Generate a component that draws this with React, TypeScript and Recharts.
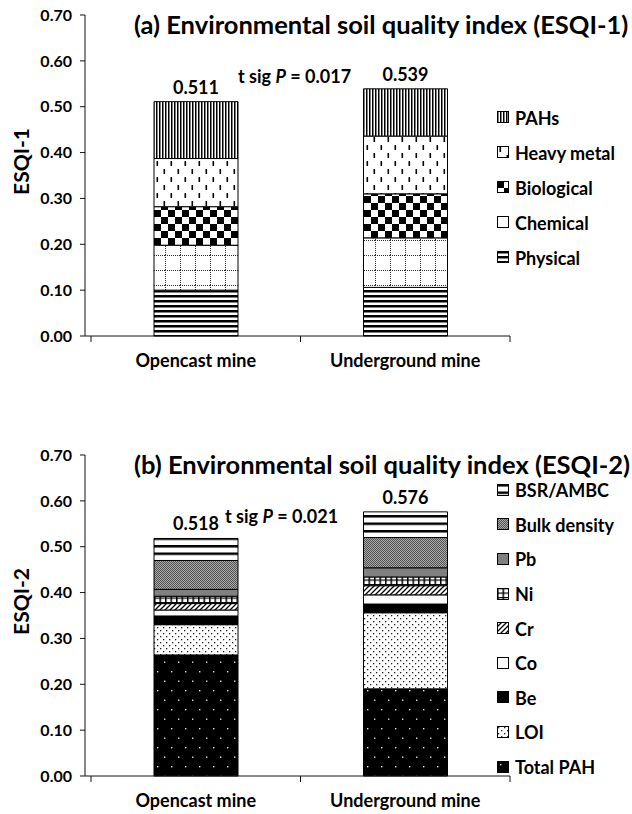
import React from "react";
import { BarChart, Bar, XAxis, YAxis, LabelList, Label } from "recharts";

const FONT = "Lato, 'Open Sans', sans-serif";
const INK = "#111";

const mines = ["Opencast mine", "Underground mine"];
const yTicks = [0, 0.1, 0.2, 0.3, 0.4, 0.5, 0.6, 0.7];

// (a) ESQI-1 components
const physical = [0.1, 0.106];
const chemical = [0.098, 0.108];
const biological = [0.084, 0.096];
const heavyMetal = [0.105, 0.126];
const pahs = [0.124, 0.103];
const esqi1Totals = [0.511, 0.539];

// (b) ESQI-2 components
const totalPah = [0.264, 0.19];
const loi = [0.066, 0.166];
const be = [0.019, 0.019];
const co = [0.013, 0.02];
const cr = [0.014, 0.02];
const ni = [0.016, 0.019];
const pb = [0.015, 0.02];
const bulkDensity = [0.063, 0.066];
const bsrAmbc = [0.048, 0.056];
const esqi2Totals = [0.518, 0.576];

const esqi1Data = mines.map((mine, i) => ({
  mine,
  physical: physical[i],
  chemical: chemical[i],
  biological: biological[i],
  heavyMetal: heavyMetal[i],
  pahs: pahs[i],
  total: esqi1Totals[i],
}));

const esqi2Data = mines.map((mine, i) => ({
  mine,
  totalPah: totalPah[i],
  loi: loi[i],
  be: be[i],
  co: co[i],
  cr: cr[i],
  ni: ni[i],
  pb: pb[i],
  bulkDensity: bulkDensity[i],
  bsrAmbc: bsrAmbc[i],
  total: esqi2Totals[i],
}));

type Series = { key: string; name: string; fill: string };

// stacking order, bottom first
const esqi1Series: Series[] = [
  { key: "physical", name: "Physical", fill: "url(#p-physical)" },
  { key: "chemical", name: "Chemical", fill: "url(#p-chemical)" },
  { key: "biological", name: "Biological", fill: "url(#p-biological)" },
  { key: "heavyMetal", name: "Heavy metal", fill: "url(#p-heavy)" },
  { key: "pahs", name: "PAHs", fill: "url(#p-pahs)" },
];

const esqi2Series: Series[] = [
  { key: "totalPah", name: "Total PAH", fill: "url(#p-totalpah)" },
  { key: "loi", name: "LOI", fill: "url(#p-loi)" },
  { key: "be", name: "Be", fill: "#000" },
  { key: "co", name: "Co", fill: "#fff" },
  { key: "cr", name: "Cr", fill: "url(#p-cr)" },
  { key: "ni", name: "Ni", fill: "url(#p-ni)" },
  { key: "pb", name: "Pb", fill: "#808080" },
  { key: "bulkDensity", name: "Bulk density", fill: "url(#p-bulk)" },
  { key: "bsrAmbc", name: "BSR/AMBC", fill: "url(#p-bsr)" },
];

function Patterns() {
  return (
    <svg width={0} height={0} style={{ position: "absolute" }}>
      <defs>
        <pattern id="p-physical" width={8} height={5} patternUnits="userSpaceOnUse">
          <rect width={8} height={5} fill="#fff" />
          <rect width={8} height={2.5} fill="#000" />
        </pattern>
        <pattern id="p-chemical" width={15} height={15} patternUnits="userSpaceOnUse">
          <rect width={15} height={15} fill="#fff" />
          <line x1={0} y1={0.5} x2={15} y2={0.5} stroke="#333" strokeDasharray="1 1" />
          <line x1={0.5} y1={0} x2={0.5} y2={15} stroke="#333" strokeDasharray="1 1" />
        </pattern>
        <pattern id="p-biological" width={14} height={14} patternUnits="userSpaceOnUse">
          <rect width={14} height={14} fill="#fff" />
          <rect width={7} height={7} fill="#000" />
          <rect x={7} y={7} width={7} height={7} fill="#000" />
        </pattern>
        <pattern id="p-heavy" width={14} height={16} patternUnits="userSpaceOnUse">
          <rect width={14} height={16} fill="#fff" />
          <rect x={2.5} y={1} width={1.6} height={5} fill="#000" />
          <rect x={9.5} y={9} width={1.6} height={5} fill="#000" />
        </pattern>
        <pattern id="p-pahs" width={3} height={4} patternUnits="userSpaceOnUse">
          <rect width={3} height={4} fill="#fff" />
          <rect width={1.5} height={4} fill="#000" />
        </pattern>
        <pattern id="p-totalpah" width={14} height={19} patternUnits="userSpaceOnUse">
          <rect width={14} height={19} fill="#000" />
          <rect x={3} y={3} width={1.4} height={1.4} fill="#ddd" />
          <rect x={10} y={12.5} width={1.4} height={1.4} fill="#ddd" />
        </pattern>
        <pattern id="p-loi" width={6} height={6} patternUnits="userSpaceOnUse">
          <rect width={6} height={6} fill="#fff" />
          <rect x={1} y={1} width={1.3} height={1.3} fill="#222" />
          <rect x={4} y={4} width={1.3} height={1.3} fill="#222" />
        </pattern>
        <pattern id="p-cr" width={5} height={5} patternUnits="userSpaceOnUse">
          <rect width={5} height={5} fill="#fff" />
          <path d="M0,5 L5,0 M-1,1 L1,-1 M4,6 L6,4" stroke="#000" strokeWidth={1.3} />
        </pattern>
        <pattern id="p-ni" width={5.5} height={4.5} patternUnits="userSpaceOnUse">
          <rect width={5.5} height={4.5} fill="#fff" />
          <rect width={1.5} height={4.5} fill="#000" />
          <rect width={5.5} height={1.2} fill="#000" />
        </pattern>
        <pattern id="p-bulk" width={2} height={2} patternUnits="userSpaceOnUse">
          <rect width={2} height={2} fill="#a8a8a8" />
          <rect width={1} height={1} fill="#555" />
          <rect x={1} y={1} width={1} height={1} fill="#555" />
        </pattern>
        <pattern id="p-bsr" width={8} height={7.5} patternUnits="userSpaceOnUse">
          <rect width={8} height={7.5} fill="#fff" />
          <rect width={8} height={2.5} fill="#000" />
        </pattern>
      </defs>
    </svg>
  );
}

// plot area: x 85..510, y 15..336
const PAD_LEFT = 6;
const HALF_BAND = (510 - 85 - PAD_LEFT) / 4;

function MineTick(props: any) {
  const { x, y, payload, index } = props;
  return (
    <g>
      <line x1={x - HALF_BAND} y1={y} x2={x - HALF_BAND} y2={y + 6} stroke={INK} />
      {index === mines.length - 1 && (
        <line x1={x + HALF_BAND} y1={y} x2={x + HALF_BAND} y2={y + 6} stroke={INK} />
      )}
      <text x={x} y={y + 31} textAnchor="middle" fontSize={18} fontWeight="bold" fill="#000" fontFamily={FONT}>
        {payload.value}
      </text>
    </g>
  );
}

type PanelProps = {
  top: number;
  title: string;
  yLabel: string;
  sig: string;
  sigX: number;
  data: any[];
  series: Series[];
  legendTop: number;
  legendStep: number;
};

function Panel({ top, title, yLabel, sig, sigX, data, series, legendTop, legendStep }: PanelProps) {
  const last = series[series.length - 1].key;
  return (
    <div style={{ position: "absolute", left: 0, top, width: 632, height: 372 }}>
      <BarChart width={632} height={372} data={data} margin={{ top: 15, right: 122, bottom: 0, left: 0 }}>
        <XAxis
          dataKey="mine"
          height={36}
          padding={{ left: PAD_LEFT, right: 0 }}
          tickLine={false}
          tickSize={0}
          tickMargin={0}
          axisLine={{ stroke: INK }}
          tick={<MineTick />}
          interval={0}
        />
        <YAxis
          width={85}
          domain={[0, 0.7]}
          ticks={yTicks}
          tickFormatter={(v: number) => v.toFixed(2)}
          tickSize={5}
          tickMargin={8}
          axisLine={{ stroke: INK }}
          tickLine={{ stroke: INK }}
          tick={{ fill: "#000", fontSize: 16, fontWeight: "bold", fontFamily: FONT }}
          interval={0}
        >
          <Label
            content={({ viewBox }: any) => {
              const cx = viewBox.x + 20;
              const cy = viewBox.y + viewBox.height / 2 - 14;
              return (
                <text
                  x={cx}
                  y={cy}
                  transform={`rotate(-90, ${cx}, ${cy})`}
                  textAnchor="middle"
                  dominantBaseline="central"
                  fontSize={21}
                  fontWeight="bold"
                  fill="#000"
                  fontFamily={FONT}
                >
                  {yLabel}
                </text>
              );
            }}
          />
        </YAxis>
        {series.map((s) => (
          <Bar
            key={s.key}
            dataKey={s.key}
            name={s.name}
            stackId="a"
            fill={s.fill}
            stroke="#000"
            strokeWidth={1}
            barSize={84}
            isAnimationActive={false}
          >
            {s.key === last && (
              <LabelList
                dataKey="total"
                position="top"
                offset={8}
                formatter={(v: any) => Number(v).toFixed(3)}
                style={{ fill: "#000", fontSize: 18, fontWeight: "bold", fontFamily: FONT }}
              />
            )}
          </Bar>
        ))}
      </BarChart>

      <div
        style={{
          position: "absolute",
          left: 0,
          width: 632,
          top: 9,
          paddingLeft: 134,
          boxSizing: "border-box",
          fontFamily: FONT,
          fontWeight: "bold",
          fontSize: 25.5,
          lineHeight: "30px",
          color: "#000",
          whiteSpace: "nowrap",
        }}
      >
        {title}
      </div>

      <div
        style={{
          position: "absolute",
          left: sigX,
          top: 64,
          fontFamily: FONT,
          fontWeight: "bold",
          fontSize: 18,
          lineHeight: "24px",
          color: "#000",
          whiteSpace: "nowrap",
        }}
      >
        t sig <i>P</i> = {sig}
      </div>

      <div style={{ position: "absolute", left: 497, top: legendTop, fontFamily: FONT }}>
        {[...series].reverse().map((s) => (
          <div key={s.key} style={{ height: legendStep, display: "flex", alignItems: "center" }}>
            <svg width={13} height={13} style={{ marginRight: 5 }}>
              <rect x={0.5} y={0.5} width={11} height={11} fill={s.fill} stroke="#000" strokeWidth={1} />
            </svg>
            <span style={{ fontSize: 18, fontWeight: "bold", color: "#000", whiteSpace: "nowrap" }}>{s.name}</span>
          </div>
        ))}
      </div>
    </div>
  );
}

export default function App() {
  return (
    <div style={{ position: "absolute", left: 0, top: 0, width: 632, height: 814, background: "#fff" }}>
      <Patterns />
      <Panel
        top={0}
        title="(a) Environmental soil quality index (ESQI-1)"
        yLabel="ESQI-1"
        sig="0.017"
        sigX={238}
        data={esqi1Data}
        series={esqi1Series}
        legendTop={100}
        legendStep={35}
      />
      <Panel
        top={440}
        title="(b) Environmental soil quality index (ESQI-2)"
        yLabel="ESQI-2"
        sig="0.021"
        sigX={225}
        data={esqi2Data}
        series={esqi2Series}
        legendTop={33}
        legendStep={34.6}
      />
    </div>
  );
}
